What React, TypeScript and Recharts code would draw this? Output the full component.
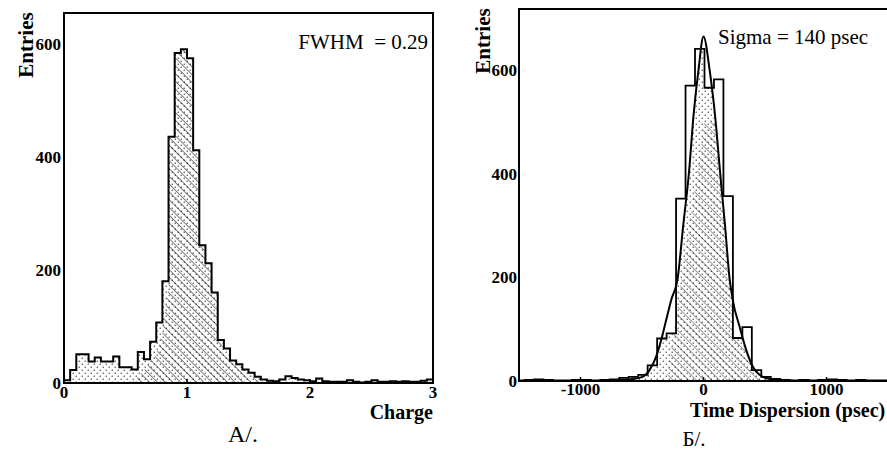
import React from 'react';
import { ComposedChart, Area, Line, XAxis, YAxis } from 'recharts';

// ---------- Panel A: Charge ----------
const chargeEdges = [
  0, 0.05, 0.1, 0.15, 0.2, 0.25, 0.3, 0.35, 0.4, 0.45,
  0.5, 0.55, 0.6, 0.65, 0.7, 0.75, 0.8, 0.85, 0.9, 0.95,
  1.0, 1.05, 1.1, 1.15, 1.2, 1.25, 1.3, 1.35, 1.4, 1.45,
  1.5, 1.55, 1.6, 1.65, 1.7, 1.75, 1.8, 1.85, 1.9, 1.95,
  2.0, 2.05, 2.1, 2.15, 2.2, 2.25, 2.3, 2.35, 2.4, 2.45,
  2.5, 2.55, 2.6, 2.65, 2.7, 2.75, 2.8, 2.85, 2.9, 2.95, 3.0,
];
const chargeCounts = [
  5, 23, 51, 51, 38, 45, 38, 38, 47, 28,
  28, 24, 55, 42, 73, 107, 180, 436, 584, 591,
  575, 412, 244, 212, 160, 76, 61, 40, 33, 24,
  18, 11, 6, 4, 3, 6, 12, 9, 6, 5,
  3, 8, 3, 2, 2, 2, 5, 2, 1, 2,
  5, 2, 2, 3, 2, 3, 2, 2, 4, 6,
];
const chargeHatchX = [0.55, 0.65, 0.75, 0.8, 0.85, 0.85, 0.9, 0.9, 0.95, 0.95, 1.0, 1.0, 1.05, 1.05, 1.1, 1.1, 1.15, 1.15, 1.2, 1.2, 1.25, 1.25, 1.3, 1.3, 1.6];
const chargeHatchY = [0, 22, 50, 90, 170, 436, 436, 584, 584, 591, 591, 575, 575, 412, 412, 244, 244, 212, 212, 160, 160, 76, 76, 50, 0];
const chargeTicks = [0, 1, 2, 3];
const entriesTicks = [0, 200, 400, 600];

// ---------- Panel B: Time dispersion ----------
const timeEdges = [
  -1500, -1455, -1378, -1301, -1224, -1147, -1070, -993, -916, -839,
  -762, -685, -608, -531, -454, -377, -300, -223, -146, -69,
  8, 85, 162, 239, 316, 393, 470, 547, 624, 701,
  778, 855, 932, 1009, 1086, 1163, 1240, 1317, 1394, 1471, 1500,
];
const timeCounts = [
  1, 2, 3, 2, 1, 1, 2, 2, 1, 2,
  3, 6, 8, 12, 30, 82, 92, 352, 570, 641,
  566, 582, 357, 83, 104, 21, 8, 4, 2, 1,
  2, 1, 2, 3, 2, 1, 2, 1, 1, 1,
];
const fitX = [-1500, -850, -683, -577, -496, -439, -385, -344, -303, -263, -209, -165, -119, -80, -41, 0, 50, 95, 136, 175, 211, 238, 293, 347, 400, 455, 537, 650, 850, 1500];
const fitY = [0, 0, 2, 4, 8, 21, 47, 79, 118, 156, 200, 300, 400, 515, 600, 665, 600, 510, 400, 300, 200, 156, 105, 60, 28, 12, 4, 1, 0, 0];
const timeHatchX = [-300, -223, -146, -69, 8, 50, 95, 136, 175, 211, 239, 239, 316, 347, 393, 393, 425, 455, 470, 537, 600];
const timeHatchY = [0, 125, 250, 375, 500, 500, 500, 400, 300, 200, 150, 83, 80, 60, 31, 21, 21, 12, 8, 4, 0];
const timeTicks = [-1000, 0, 1000];

// ---------- derived tables ----------
const stepTable = (edges: number[], counts: number[]) =>
  edges.map((e, i) => ({ x: e, y: counts[Math.min(i, counts.length - 1)] }));
const xyTable = (xs: number[], ys: number[]) => xs.map((x, i) => ({ x, y: ys[i] }));

const chargeStep = stepTable(chargeEdges, chargeCounts);
const chargeHatch = xyTable(chargeHatchX, chargeHatchY);
const timeStep = stepTable(timeEdges, timeCounts);
const fitData = xyTable(fitX, fitY);
const timeHatch = xyTable(timeHatchX, timeHatchY);

const SERIF = "'Liberation Serif', 'DejaVu Serif', serif";

// layout
const L = { left: 64, top: 13, bottom: 383, right: 433 };
const R = { left: 519, top: 9, bottom: 381, right: 888 };
const Y_MAX_L = 655;
const Y_MAX_R = 718;

const Patterns = ({ id }: { id: string }) => (
  <defs>
    <pattern id={`dots-${id}`} width="6" height="6" patternUnits="userSpaceOnUse">
      <circle cx="1.2" cy="1.2" r="0.6" fill="#000" />
      <circle cx="4.2" cy="4.2" r="0.6" fill="#000" />
    </pattern>
    <pattern id={`hatch-${id}`} width="5.5" height="5.5" patternUnits="userSpaceOnUse" patternTransform="rotate(-45)">
      <line x1="0" y1="0" x2="0" y2="5.5" stroke="#000" strokeWidth={id === 'L' ? 1.0 : 0.8} />
    </pattern>
  </defs>
);

const TICK_FONT = 17;

export default function App() {
  return (
    <div style={{ position: 'absolute', left: 0, top: 0, width: 887, height: 452, overflow: 'hidden', background: '#fff' }}>
      {/* Panel A */}
      <div style={{ position: 'absolute', left: 0, top: 0 }}>
        <ComposedChart width={450} height={452} margin={{ top: L.top, right: 450 - L.right, bottom: 0, left: 0 }}>
          <Patterns id="L" />
          <XAxis
            type="number"
            dataKey="x"
            domain={[0, 3]}
            ticks={chargeTicks}
            interval={0}
            allowDataOverflow
            height={452 - L.bottom}
            axisLine={false}
            tickLine={{ stroke: '#000', strokeWidth: 1.5 }}
            tickSize={-4}
            tickMargin={4}
            tick={(p: any) => (
              <text x={p.x} y={L.bottom + 15} textAnchor="middle" fontFamily={SERIF} fontWeight={700} fontSize={TICK_FONT} fill="#000">
                {p.payload.value}
              </text>
            )}
          />
          <YAxis
            type="number"
            domain={[0, Y_MAX_L]}
            ticks={entriesTicks}
            interval={0}
            allowDataOverflow
            width={L.left}
            axisLine={false}
            tickLine={false}
            tick={(p: any) => (
              <text x={L.left - 3} y={p.y + 6} textAnchor="end" fontFamily={SERIF} fontWeight={700} fontSize={TICK_FONT} fill="#000">
                {p.payload.value}
              </text>
            )}
          />
          <Area data={chargeStep} dataKey="y" type="stepAfter" fill="url(#dots-L)" fillOpacity={1} stroke="none" isAnimationActive={false} />
          <Area data={chargeHatch} dataKey="y" type="linear" fill="url(#hatch-L)" fillOpacity={1} stroke="none" isAnimationActive={false} />
          <Line data={chargeStep} dataKey="y" type="stepAfter" stroke="#000" strokeWidth={2} dot={false} activeDot={false} isAnimationActive={false} />
        </ComposedChart>
      </div>

      {/* Panel B */}
      <div style={{ position: 'absolute', left: 440, top: 0 }}>
        <ComposedChart width={450} height={452} margin={{ top: R.top, right: 440 + 450 - R.right, bottom: 0, left: 0 }}>
          <Patterns id="R" />
          <XAxis
            type="number"
            dataKey="x"
            domain={[-1500, 1500]}
            ticks={timeTicks}
            interval={0}
            allowDataOverflow
            height={452 - R.bottom}
            axisLine={false}
            tickLine={{ stroke: '#000', strokeWidth: 1.5 }}
            tickSize={-4}
            tickMargin={4}
            tick={(p: any) => (
              <text x={p.x} y={R.bottom + 14} textAnchor="middle" fontFamily={SERIF} fontWeight={700} fontSize={TICK_FONT} fill="#000">
                {p.payload.value}
              </text>
            )}
          />
          <YAxis
            type="number"
            domain={[0, Y_MAX_R]}
            ticks={entriesTicks}
            interval={0}
            allowDataOverflow
            width={R.left - 440}
            axisLine={false}
            tickLine={false}
            tick={(p: any) => (
              <text x={R.left - 440 - 2} y={p.y + 6} textAnchor="end" fontFamily={SERIF} fontWeight={700} fontSize={TICK_FONT} fill="#000">
                {p.payload.value}
              </text>
            )}
          />
          <Area data={timeStep} dataKey="y" type="stepAfter" fill="url(#dots-R)" fillOpacity={1} stroke="none" isAnimationActive={false} />
          <Area data={timeHatch} dataKey="y" type="linear" fill="url(#hatch-R)" fillOpacity={1} stroke="none" isAnimationActive={false} />
          <Area data={fitData} dataKey="y" type="monotone" baseValue={Y_MAX_R} fill="#fff" fillOpacity={1} stroke="none" isAnimationActive={false} />
          <Line data={timeStep} dataKey="y" type="stepAfter" stroke="#000" strokeWidth={1.8} dot={false} activeDot={false} isAnimationActive={false} />
          <Line data={fitData} dataKey="y" type="monotone" stroke="#000" strokeWidth={2} dot={false} activeDot={false} isAnimationActive={false} />
        </ComposedChart>
      </div>

      {/* frames and annotations */}
      <svg width={887} height={452} style={{ position: 'absolute', left: 0, top: 0, pointerEvents: 'none' }}>
        <rect x={L.left} y={L.top} width={L.right - L.left} height={L.bottom - L.top} fill="none" stroke="#000" strokeWidth={2} />
        <rect x={R.left} y={R.top} width={R.right - R.left} height={R.bottom - R.top} fill="none" stroke="#000" strokeWidth={2} />
        <g fontFamily={SERIF} fill="#000">
          <text transform="translate(33,45) rotate(-90)" textAnchor="middle" fontWeight={700} fontSize={21}>Entries</text>
          <text transform="translate(490,41) rotate(-90)" textAnchor="middle" fontWeight={700} fontSize={21}>Entries</text>
          <text x={428} y={49} textAnchor="end" fontSize={21} style={{ whiteSpace: 'pre' }}>{'FWHM  = 0.29'}</text>
          <text x={433} y={419} textAnchor="end" fontWeight={700} fontSize={20}>Charge</text>
          <text x={243} y={442} textAnchor="middle" fontSize={24}>A/.</text>
          <text x={718} y={44} textAnchor="start" fontSize={21}>Sigma = 140 psec</text>
          <text x={690} y={417} textAnchor="start" fontWeight={700} fontSize={20}>Time Dispersion (psec)</text>
          <text x={694} y={446} textAnchor="middle" fontSize={21}>Б/.</text>
        </g>
      </svg>
    </div>
  );
}
